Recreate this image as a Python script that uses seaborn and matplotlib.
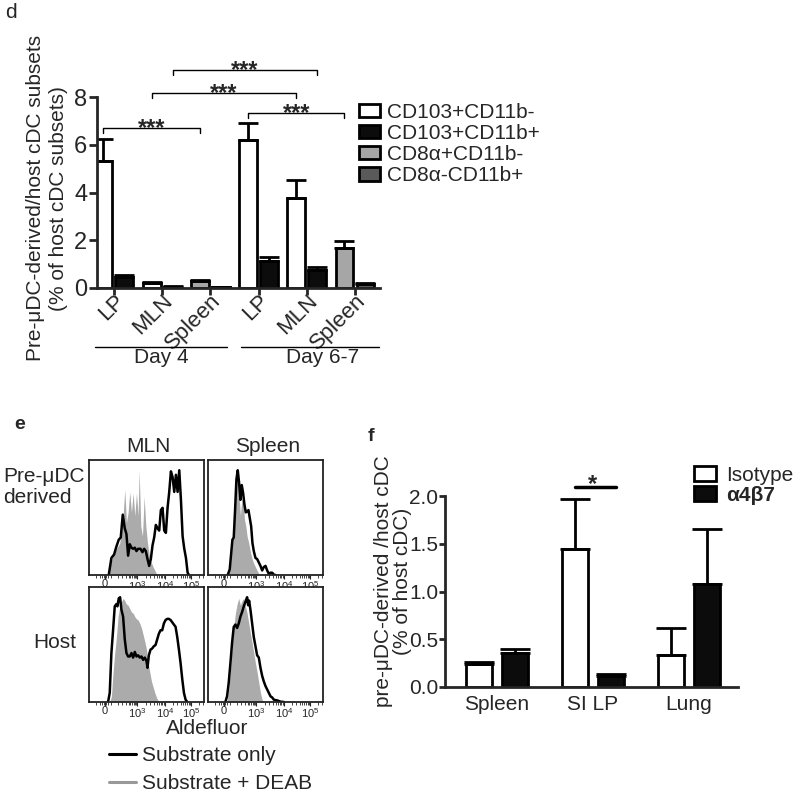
import numpy as np
import pandas as pd
import matplotlib
matplotlib.use('Agg')
import matplotlib.pyplot as plt
import matplotlib.transforms as mtransforms
from matplotlib.patches import Patch
from matplotlib.lines import Line2D
import seaborn as sns

sns.set_style('ticks')
plt.rcParams['font.family'] = ['Liberation Sans', 'DejaVu Sans']
plt.rcParams['mathtext.fontset'] = 'custom'
plt.rcParams['mathtext.rm'] = 'Liberation Sans'
plt.rcParams['mathtext.bf'] = 'Liberation Sans:bold'

# ---------------- panel d data ----------------
d_groups = ['LP4', 'MLN4', 'Spleen4', 'LP6', 'MLN6', 'Spleen6']
d_ticklabels = ['LP', 'MLN', 'Spleen', 'LP', 'MLN', 'Spleen']
d_days = ['Day 4', 'Day 6-7']
d_first_subset = ['CD103+CD11b-', 'CD103+CD11b-', 'CD8α+CD11b-',
                  'CD103+CD11b-', 'CD103+CD11b-', 'CD8α+CD11b-']
d_second_subset = ['CD103+CD11b+', 'CD103+CD11b+', 'CD8α-CD11b+',
                   'CD103+CD11b+', 'CD103+CD11b+', 'CD8α-CD11b+']
d_first_mean = [5.33, 0.20, 0.30, 6.19, 3.77, 1.68]
d_first_sem = [0.91, 0.05, 0.05, 0.72, 0.77, 0.28]
d_second_mean = [0.47, 0.05, 0.04, 1.12, 0.74, 0.16]
d_second_sem = [0.07, 0.02, 0.01, 0.16, 0.13, 0.05]
d_subsets = ['CD103+CD11b-', 'CD103+CD11b+', 'CD8α+CD11b-', 'CD8α-CD11b+']
d_colors = ['white', '#0c0c0c', '#a6a6a6', '#5a5a5a']
# brackets: (slot, group) left, (slot, group) right, height
d_brackets = [(('first', 'LP4'), ('first', 'Spleen4'), 6.70),
              (('first', 'MLN4'), ('first', 'MLN6'), 8.18),
              (('second', 'MLN4'), ('second', 'MLN6'), 9.13),
              (('first', 'LP6'), ('first', 'Spleen6'), 7.32)]

# ---------------- panel e data (channel 0-1032, % of max) ----------------
mln_pre_black_x = [177, 201, 225, 246, 267, 285, 303, 321, 336, 351, 366, 381, 396, 411, 426, 441,
                   462, 480, 495, 510, 525, 540, 555, 570, 585, 600, 615, 630, 645, 660, 675, 690,
                   705, 720, 735, 750, 765, 780, 795, 810, 825, 840, 855, 870, 885, 897]
mln_pre_black_y = [0, 15, 18, 25, 31, 33, 53, 41, 36, 17, 27, 24, 23, 24, 21, 23,
                   23, 20, 23, 21, 14, 8, 14, 26, 33, 44, 41, 39, 57, 59, 39, 37,
                   59, 73, 91, 86, 73, 88, 73, 92, 66, 34, 23, 15, 2, 0]
mln_pre_gray_x = [177, 186, 216, 246, 276, 291, 306, 321, 336, 351, 366, 381, 396, 411, 426, 441,
                  450, 465, 480, 495, 510, 525, 546, 576, 606, 621]
mln_pre_gray_y = [0, 8, 17, 23, 28, 43, 52, 75, 46, 55, 73, 55, 72, 52, 72, 52,
                  92, 43, 34, 69, 43, 28, 14, 7, 1, 0]

spl_pre_black_x = [177, 195, 207, 219, 231, 243, 255, 267, 279, 291, 303, 315, 327, 339, 351, 363,
                   375, 387, 399, 411, 426, 441, 456, 471, 486, 501, 516, 531, 546, 561, 576, 591, 606]
spl_pre_black_y = [0, 5, 18, 31, 33, 57, 84, 92, 81, 66, 79, 72, 62, 55, 56, 57,
                   50, 43, 28, 21, 15, 14, 11, 8, 4, 7, 8, 4, 1, 2, 2, 0.3, 0]
spl_pre_gray_x = [177, 195, 207, 219, 231, 243, 255, 267, 279, 291, 303, 315, 327, 339, 351, 366,
                  381, 396, 411, 426, 441, 456, 471]
spl_pre_gray_y = [0, 5, 14, 31, 39, 66, 84, 86, 69, 52, 66, 68, 49, 43, 34, 28,
                  20, 14, 10, 7, 4, 1, 0]

mln_host_black_x = [171, 186, 201, 216, 231, 246, 255, 267, 279, 291, 306, 321, 336, 351, 366, 381,
                    396, 411, 426, 441, 456, 471, 486, 501, 516, 525, 537, 552, 567, 582, 597, 612,
                    627, 642, 657, 672, 687, 702, 717, 732, 747, 762, 777, 792, 807, 822, 837, 852,
                    867, 882]
mln_host_black_y = [0, 8, 43, 63, 84, 86, 84, 91, 92, 81, 75, 55, 43, 40, 40, 43,
                    39, 44, 40, 41, 39, 40, 37, 39, 36, 30, 41, 46, 47, 49, 50, 55,
                    60, 63, 63, 69, 72, 73, 73, 72, 70, 68, 66, 57, 46, 34, 20, 8,
                    2, 0]
mln_host_gray_x = [186, 201, 216, 231, 246, 261, 276, 291, 306, 321, 336, 351, 366, 381, 396, 411,
                   426, 441, 456, 471, 486, 501, 516, 531, 546, 561, 576, 591, 606, 621, 636]
mln_host_gray_y = [0, 5, 26, 43, 57, 75, 84, 88, 91, 89, 86, 85, 82, 79, 78, 75,
                   73, 72, 69, 65, 59, 53, 46, 34, 26, 18, 13, 8, 4, 1, 0]

spl_host_black_x = [156, 171, 186, 201, 216, 231, 246, 261, 276, 291, 306, 321, 336, 351, 360, 369,
                    381, 396, 411, 426, 441, 456, 471, 486, 501, 516, 531, 546, 561, 576, 591, 621,
                    651, 681]
spl_host_black_y = [0, 5, 17, 34, 52, 66, 68, 65, 69, 75, 79, 84, 88, 92, 85, 89,
                    81, 69, 57, 49, 41, 39, 30, 23, 18, 14, 11, 8, 5, 4, 2, 1.4,
                    0.3, 0]
spl_host_gray_x = [171, 186, 201, 216, 231, 246, 261, 276, 291, 306, 321, 336, 351, 366, 381, 396,
                   411, 426, 441, 456, 471, 486, 501]
spl_host_gray_y = [0, 11, 28, 49, 66, 78, 86, 91, 85, 89, 91, 84, 78, 69, 60, 52,
                   43, 34, 26, 17, 8, 2, 0]

e_major_ticks = [144, 433, 681, 918]
e_major_labels = ['0', r'$10^3$', r'$10^4$', r'$10^5$']
e_minor_ticks = [60, 95, 120, 135, 153, 168, 195, 260, 300, 330, 355, 372, 388, 401, 413, 423,
                 508, 551, 582, 606, 626, 643, 657, 670,
                 752, 794, 824, 847, 865, 881, 895, 907, 990, 1020]

# ---------------- panel f data ----------------
f_tissues = ['Spleen', 'SI LP', 'Lung']
f_treatments = ['Isotype', 'α4β7']
f_isotype_mean = [0.245, 1.445, 0.33]
f_isotype_sem = [0.015, 0.52, 0.29]
f_a4b7_mean = [0.36, 0.11, 1.075]
f_a4b7_sem = [0.04, 0.025, 0.575]

W, H = 800, 793
fig = plt.figure(figsize=(W / 100, H / 100), dpi=100)


def fx(px):
    return px / W


def fy(py):
    return 1 - py / H


# ================= panel d =================
axd = fig.add_axes([fx(97), fy(288), fx(380) - fx(97), fy(97) - fy(288)])
rows = []
for i, g in enumerate(d_groups):
    rows.append(dict(group=g, slot='first', subset=d_first_subset[i],
                     value=d_first_mean[i], err=d_first_sem[i]))
    rows.append(dict(group=g, slot='second', subset=d_second_subset[i],
                     value=d_second_mean[i], err=d_second_sem[i]))
df_d = pd.DataFrame(rows)
sns.barplot(data=df_d, x='group', y='value', hue='slot', order=d_groups,
            hue_order=['first', 'second'], width=0.87, gap=0.15, errorbar=None,
            edgecolor='black', linewidth=2, legend=False, ax=axd)
col_of = dict(zip(d_subsets, d_colors))
slots = ['first', 'second']
pos = {}
for k, cont in enumerate(list(axd.containers)):
    for j, patch in enumerate(cont.patches):
        r = df_d[(df_d['group'] == d_groups[j]) & (df_d['slot'] == slots[k])].iloc[0]
        patch.set_facecolor(col_of[r['subset']])
        xc = patch.get_x() + patch.get_width() / 2
        pos[(slots[k], d_groups[j])] = xc
        axd.errorbar([xc], [r['value']], yerr=[[0], [r['err']]], fmt='none', ecolor='black',
                     elinewidth=2, capsize=7, capthick=2, zorder=1)
axd.set_ylim(0, 8)
axd.set_xlim(-0.35, 5.52)
axd.set_yticks([0, 2, 4, 6, 8])
axd.set_xlabel('')
axd.set_ylabel('Pre-μDC-derived/host cDC subsets\n(% of host cDC subsets)', fontsize=15,
               linespacing=1.25)
axd.yaxis.set_label_coords(-0.1025, 0.47)
axd.set_xticks(range(len(d_groups)))
axd.set_xticklabels(d_ticklabels, rotation=45, ha='right', rotation_mode='anchor', fontsize=16)
axd.tick_params(axis='y', labelsize=17, width=2, length=6, pad=1)
axd.tick_params(axis='x', width=2, length=5, pad=-3.5)
sns.despine(ax=axd)
for s in ['left', 'bottom']:
    axd.spines[s].set_linewidth(2)

for (lft, rgt, h) in d_brackets:
    x0, x1 = pos[lft], pos[rgt]
    axd.plot([x0, x0, x1, x1], [h - 0.22, h, h, h - 0.22], color='black', lw=1,
             clip_on=False)
    axd.text((x0 + x1) / 2, h - 0.3, '***', ha='center', va='baseline', fontsize=17,
             fontweight='bold', clip_on=False)

# day group underlines and labels
trans = mtransforms.blended_transform_factory(axd.transData, axd.transAxes)
day_spans = [(-0.39, 2.34), (2.63, 5.50)]
day_text_x = [0.98, 4.32]
for day, (x0, x1), tx in zip(d_days, day_spans, day_text_x):
    axd.plot([x0, x1], [-0.309, -0.309], color='black', lw=1, transform=trans, clip_on=False)
    axd.text(tx, -0.315, day, ha='center', va='top', fontsize=15, transform=trans)

fig.legend(handles=[Patch(facecolor=c, edgecolor='black', linewidth=2, label=s)
                    for s, c in zip(d_subsets, d_colors)],
           loc='upper left', bbox_to_anchor=(fx(359), fy(103)), frameon=False, fontsize=15,
           handlelength=1.0, handleheight=0.6, handletextpad=0.35, labelspacing=0.1,
           borderpad=0, borderaxespad=0)
fig.text(fx(5), fy(3), 'd', fontsize=15, va='top', ha='left')

# ================= panel e =================
hists = [
    (mln_pre_gray_x, mln_pre_gray_y, mln_pre_black_x, mln_pre_black_y, 89, 575),
    (spl_pre_gray_x, spl_pre_gray_y, spl_pre_black_x, spl_pre_black_y, 208, 575),
    (mln_host_gray_x, mln_host_gray_y, mln_host_black_x, mln_host_black_y, 89, 702),
    (spl_host_gray_x, spl_host_gray_y, spl_host_black_x, spl_host_black_y, 208, 702),
]
for gx, gy, bx, by, left, bottom in hists:
    ax = fig.add_axes([fx(left), fy(bottom), 115 / W, 115 / H])
    ax.fill_between(gx, gy, color='#ababab', lw=0)
    sns.lineplot(x=bx, y=by, color='black', lw=1.8, ax=ax)
    ax.set_xlim(0, 1032)
    ax.set_ylim(0, 101)
    ax.set_yticks([])
    ax.set_xticks(e_major_ticks)
    ax.set_xticklabels(e_major_labels, fontsize=8)
    ax.set_xticks(e_minor_ticks, minor=True)
    ax.tick_params(axis='x', which='major', length=3, width=0.8, pad=0)
    ax.tick_params(axis='x', which='minor', length=2, width=0.6)
    for s in ax.spines.values():
        s.set_linewidth(1.3)
        s.set_color('#222222')

fig.text(fx(148), fy(447), 'MLN', fontsize=15, ha='center', va='center')
fig.text(fx(268), fy(447), 'Spleen', fontsize=15, ha='center', va='center')
fig.text(fx(3), fy(487), 'Pre-μDC\nderived', fontsize=15, ha='left', va='center',
         linespacing=1.1)
fig.text(fx(55), fy(643), 'Host', fontsize=15, ha='center', va='center')
fig.text(fx(207), fy(729), 'Aldefluor', fontsize=15, ha='center', va='center')
fig.legend(handles=[Line2D([], [], color='black', lw=2.2, label='Substrate only'),
                    Line2D([], [], color='#999999', lw=2.2, label='Substrate + DEAB')],
           loc='upper left', bbox_to_anchor=(fx(109), fy(746)), frameon=False, fontsize=15,
           handlelength=1.3, handletextpad=0.3, labelspacing=0.45, borderpad=0,
           borderaxespad=0)
fig.text(fx(14), fy(416), 'e', fontsize=14, fontweight='bold', va='top', ha='left')

# ================= panel f =================
axf = fig.add_axes([fx(445), fy(687), fx(738) - fx(445), fy(496) - fy(687)])
df_f = pd.DataFrame({
    'tissue': f_tissues * 2,
    'treatment': [f_treatments[0]] * 3 + [f_treatments[1]] * 3,
    'value': f_isotype_mean + f_a4b7_mean,
    'err': f_isotype_sem + f_a4b7_sem,
})
sns.barplot(data=df_f, x='tissue', y='value', hue='treatment', order=f_tissues,
            hue_order=f_treatments, palette=['white', '#0c0c0c'], width=0.75, gap=0.28,
            errorbar=None, edgecolor='black', linewidth=2, legend=False, ax=axf)
fpos = {}
for k, cont in enumerate(list(axf.containers)):
    for j, patch in enumerate(cont.patches):
        r = df_f[(df_f['tissue'] == f_tissues[j]) & (df_f['treatment'] == f_treatments[k])].iloc[0]
        xc = patch.get_x() + patch.get_width() / 2
        fpos[(f_treatments[k], f_tissues[j])] = xc
        axf.errorbar([xc], [r['value']], yerr=[[0], [r['err']]], fmt='none', ecolor='black',
                     elinewidth=2, capsize=11, capthick=2, zorder=1)
axf.set_ylim(0, 2.0)
axf.set_xlim(-0.54, 2.51)
axf.set_yticks([0, 0.5, 1.0, 1.5, 2.0])
axf.set_yticklabels(['0.0', '0.5', '1.0', '1.5', '2.0'])
axf.set_xlabel('')
axf.set_ylabel('pre-μDC-derived /host cDC\n(% of host cDC)', fontsize=15, linespacing=1.0)
axf.yaxis.set_label_coords(-0.114, 0.555)
axf.tick_params(axis='both', labelsize=15, width=2, length=4, pad=1)
axf.tick_params(axis='x', length=0, pad=6)
sns.despine(ax=axf)
for s in ['left', 'bottom']:
    axf.spines[s].set_linewidth(2)
x0, x1 = fpos[('Isotype', 'SI LP')], fpos[('α4β7', 'SI LP')]
axf.plot([x0, x1 + 0.05], [2.09, 2.09], color='black', lw=2.5, clip_on=False)
axf.text((x0 + x1) / 2, 2.12, '*', ha='center', va='center', fontsize=17, fontweight='bold',
         clip_on=False)
fig.legend(handles=[Patch(facecolor=c, edgecolor='black', linewidth=2, label=t)
                    for t, c in zip(f_treatments, ['white', '#0c0c0c'])],
           loc='upper left', bbox_to_anchor=(fx(694), fy(466)), frameon=False, fontsize=15,
           handlelength=1.05, handleheight=0.75, handletextpad=0.5, labelspacing=0.05,
           borderpad=0, borderaxespad=0)
leg = fig.legends[-1]
leg.get_texts()[1].set_fontweight('bold')
fig.text(fx(368), fy(428), 'f', fontsize=14, fontweight='bold', va='top', ha='left')

fig.savefig('out.png', dpi=100)
